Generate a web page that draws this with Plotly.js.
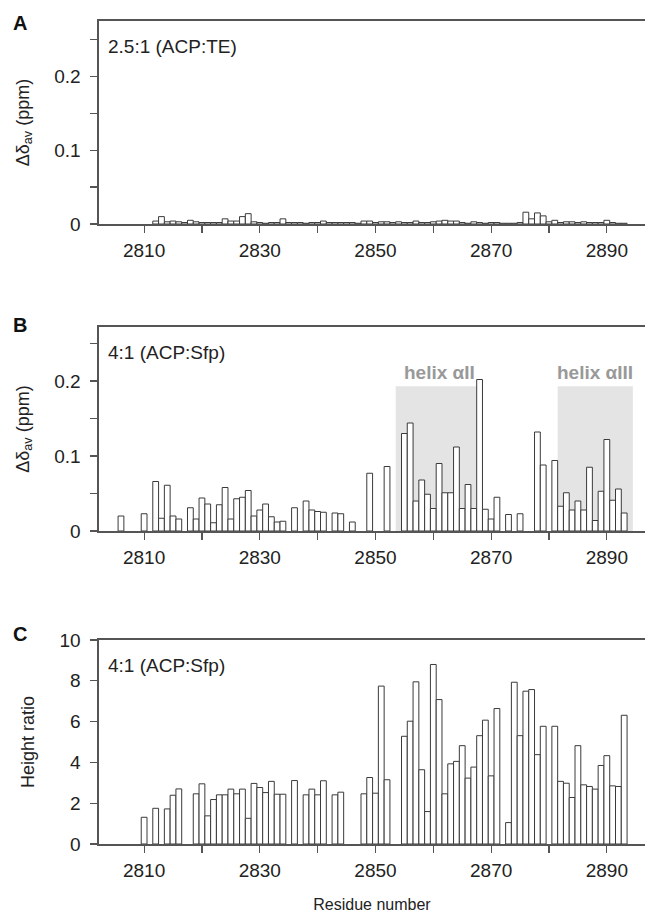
<!DOCTYPE html>
<html>
<head>
<meta charset="utf-8">
<script src="https://cdn.plot.ly/plotly-3.0.1.min.js"></script>
<style>html,body{margin:0;padding:0;background:#fff;}#chart{width:645px;height:918px;}</style>
</head>
<body>
<div id="chart"></div>
<script>
// Panel A: 2.5:1 (ACP:TE) chemical shift perturbation
const residuesA = [2812,2813,2814,2815,2816,2817,2818,2819,2820,2821,2822,2823,2824,2825,2826,2827,2828,2829,2830,2831,2832,2833,2834,2835,2836,2837,2838,2839,2840,2841,2842,2843,2844,2845,2846,2847,2848,2849,2850,2851,2852,2853,2854,2855,2856,2857,2858,2859,2860,2861,2862,2863,2864,2865,2866,2867,2868,2869,2870,2871,2872,2873,2874,2875,2876,2877,2878,2879,2880,2881,2882,2883,2884,2885,2886,2887,2888,2889,2890,2891,2892,2893];
const shiftA = [0.004,0.010,0.003,0.004,0.003,0.002,0.005,0.003,0.002,0.002,0.002,0.002,0.007,0.004,0.004,0.010,0.014,0.003,0.002,0.001,0.002,0.002,0.007,0.002,0.002,0.002,0.001,0.002,0.002,0.004,0.002,0.002,0.002,0.002,0.002,0.001,0.004,0.004,0.002,0.003,0.003,0.002,0.003,0.002,0.002,0.004,0.002,0.002,0.003,0.004,0.005,0.004,0.004,0.002,0.001,0.003,0.002,0.001,0.002,0.002,0.001,0.001,0.001,0.002,0.016,0.007,0.015,0.011,0.003,0.005,0.002,0.003,0.003,0.002,0.003,0.002,0.002,0.002,0.005,0.002,0.001,0.001];

// Panel B: 4:1 (ACP:Sfp) chemical shift perturbation
const residuesB = [2806,2810,2812,2813,2814,2815,2816,2818,2819,2820,2821,2822,2823,2824,2825,2826,2827,2828,2829,2830,2831,2832,2833,2834,2836,2838,2839,2840,2841,2843,2844,2846,2849,2852,2855,2856,2857,2858,2859,2860,2861,2862,2863,2864,2865,2866,2867,2868,2869,2870,2871,2873,2875,2878,2879,2881,2882,2883,2884,2885,2886,2887,2888,2889,2890,2891,2892,2893];
const shiftB = [0.020,0.023,0.066,0.017,0.061,0.020,0.016,0.031,0.016,0.044,0.036,0.011,0.035,0.058,0.016,0.043,0.045,0.054,0.020,0.028,0.036,0.019,0.012,0.013,0.031,0.040,0.028,0.026,0.025,0.024,0.023,0.012,0.077,0.086,0.130,0.144,0.040,0.068,0.049,0.030,0.090,0.051,0.051,0.112,0.030,0.062,0.030,0.202,0.029,0.016,0.045,0.022,0.023,0.132,0.088,0.094,0.033,0.051,0.028,0.040,0.028,0.085,0.014,0.053,0.122,0.041,0.056,0.024];

// Panel C: 4:1 (ACP:Sfp) height ratio
const residuesC = [2810,2812,2814,2815,2816,2819,2820,2821,2822,2823,2824,2825,2826,2827,2828,2829,2830,2831,2832,2833,2834,2836,2838,2839,2840,2841,2843,2844,2848,2849,2850,2851,2852,2855,2856,2857,2858,2859,2860,2861,2862,2863,2864,2865,2866,2867,2868,2869,2870,2871,2873,2874,2875,2876,2877,2878,2879,2881,2882,2883,2884,2885,2886,2887,2888,2889,2890,2891,2892,2893];
const ratioC = [1.31,1.75,1.72,2.39,2.70,2.46,2.95,1.38,2.18,2.41,2.41,2.69,2.46,2.69,1.26,2.97,2.77,2.52,3.07,2.44,2.44,3.11,2.41,2.69,2.41,3.10,2.41,2.54,2.46,3.26,2.49,7.74,3.15,5.28,6.02,7.95,3.64,1.59,8.80,7.08,2.46,3.93,4.05,4.82,3.23,3.77,5.31,6.07,3.34,6.64,1.05,7.93,5.31,7.49,7.57,4.38,5.77,5.77,3.07,2.98,2.28,4.82,2.90,2.82,2.69,3.85,4.33,2.85,2.82,6.31];

// Helix regions (residue ranges) shaded in panel B
const helixNames = ['helix \u03b1II', 'helix \u03b1III'];
const helixStart = [2853.5, 2881.5];
const helixEnd = [2868.5, 2894.5];
const helixTop = 0.193;

const FONT = 'Liberation Sans, Arial, Helvetica, sans-serif';
const AX = '#555';
const barStyle = {color:'#ffffff', line:{color:'#3a3a3a', width:1}};

function bars(x, y, xa, ya){
  return {type:'bar', x:x, y:y, xaxis:xa, yaxis:ya, marker:barStyle, width:1, hoverinfo:'x+y', showlegend:false};
}

const H = 918;
function dom(top, bottom){ return [1 - bottom/H, 1 - top/H]; }

function xaxisDef(anchor, showTitle){
  const a = {
    domain:[0,1], anchor:anchor, range:[2802.2, 2896.6],
    tickmode:'linear', tick0:2810, dtick:20,
    ticks:'outside', ticklen:7, tickwidth:1.2, tickcolor:AX, ticklabelstandoff:2,
    minor:{tick0:2810, dtick:10, ticks:'outside', ticklen:7, tickwidth:1.2, tickcolor:AX, showgrid:false},
    showline:true, linecolor:AX, linewidth:1.6, mirror:true,
    showgrid:false, zeroline:false,
    tickfont:{family:FONT, size:19, color:'#222'}
  };
  if(showTitle){ a.title = {text:'Residue number', font:{family:FONT, size:16, color:'#222'}, standoff:18}; }
  return a;
}
function yaxisDef(domY, anchor, range, dtick, minorDtick, title){
  const a = {
    domain:domY, anchor:anchor, range:range,
    tickmode:'linear', tick0:0, dtick:dtick,
    ticks:'outside', ticklen:7, tickwidth:1.2, tickcolor:AX, ticklabelstandoff:6,
    showline:true, linecolor:AX, linewidth:1.6, mirror:false,
    showgrid:false, zeroline:false,
    tickfont:{family:FONT, size:19, color:'#222'},
    title:{text:title, font:{family:FONT, size:18, color:'#222'}, standoff:20}
  };
  if(minorDtick){ a.minor = {tick0:0, dtick:minorDtick, ticks:'outside', ticklen:7, tickwidth:1.2, tickcolor:AX, showgrid:false}; }
  return a;
}

const dA = dom(21, 224), dB = dom(327, 531), dC = dom(640, 844);

const data = [
  bars(residuesA, shiftA, 'x', 'y'),
  bars(residuesB, shiftB, 'x2', 'y2'),
  bars(residuesC, ratioC, 'x3', 'y3')
];

const shapes = helixStart.map((s, i) => ({
  type:'rect', xref:'x2', yref:'y2', x0:s, x1:helixEnd[i], y0:0, y1:helixTop,
  fillcolor:'#e4e4e4', line:{width:0}, layer:'below'
}));

const annotations = [
  {text:'<b>A</b>', xref:'paper', yref:'paper', x:(11-99)/546, y:1-23/H, xanchor:'left', yanchor:'middle', showarrow:false, font:{family:FONT, size:20, color:'#111'}},
  {text:'<b>B</b>', xref:'paper', yref:'paper', x:(11-99)/546, y:1-325/H, xanchor:'left', yanchor:'middle', showarrow:false, font:{family:FONT, size:20, color:'#111'}},
  {text:'<b>C</b>', xref:'paper', yref:'paper', x:(11-99)/546, y:1-634/H, xanchor:'left', yanchor:'middle', showarrow:false, font:{family:FONT, size:20, color:'#111'}},
  {text:'2.5:1 (ACP:TE)', xref:'paper', yref:'paper', x:(106-99)/546, y:1-46/H, xanchor:'left', yanchor:'middle', showarrow:false, font:{family:FONT, size:19, color:'#222'}},
  {text:'4:1 (ACP:Sfp)', xref:'paper', yref:'paper', x:(106-99)/546, y:1-352/H, xanchor:'left', yanchor:'middle', showarrow:false, font:{family:FONT, size:19, color:'#222'}},
  {text:'4:1 (ACP:Sfp)', xref:'paper', yref:'paper', x:(106-99)/546, y:1-665/H, xanchor:'left', yanchor:'middle', showarrow:false, font:{family:FONT, size:19, color:'#222'}}
];
helixNames.forEach((n, i) => {
  annotations.push({text:'<b>'+n+'</b>', xref:'x2', yref:'paper', x:(helixStart[i]+helixEnd[i])/2, y:1-372/H,
    xanchor:'center', yanchor:'middle', showarrow:false, font:{family:FONT, size:19, color:'#999'}});
});

const layout = {
  width:645, height:918,
  margin:{l:99, r:0, t:0, b:0},
  paper_bgcolor:'#fff', plot_bgcolor:'#fff',
  bargap:0, showlegend:false,
  font:{family:FONT, color:'#222'},
  xaxis: xaxisDef('y', false),
  yaxis: yaxisDef(dA, 'x', [0, 0.275], 0.1, 0.05, '\u0394\u03b4<sub>av</sub> (ppm)'),
  xaxis2: xaxisDef('y2', false),
  yaxis2: yaxisDef(dB, 'x2', [0, 0.272], 0.1, 0.05, '\u0394\u03b4<sub>av</sub> (ppm)'),
  xaxis3: xaxisDef('y3', true),
  yaxis3: yaxisDef(dC, 'x3', [0, 10], 2, null, 'Height ratio'),
  shapes:shapes,
  annotations:annotations
};

Plotly.newPlot('chart', data, layout, {displayModeBar:false, staticPlot:true});
</script>
</body>
</html>
